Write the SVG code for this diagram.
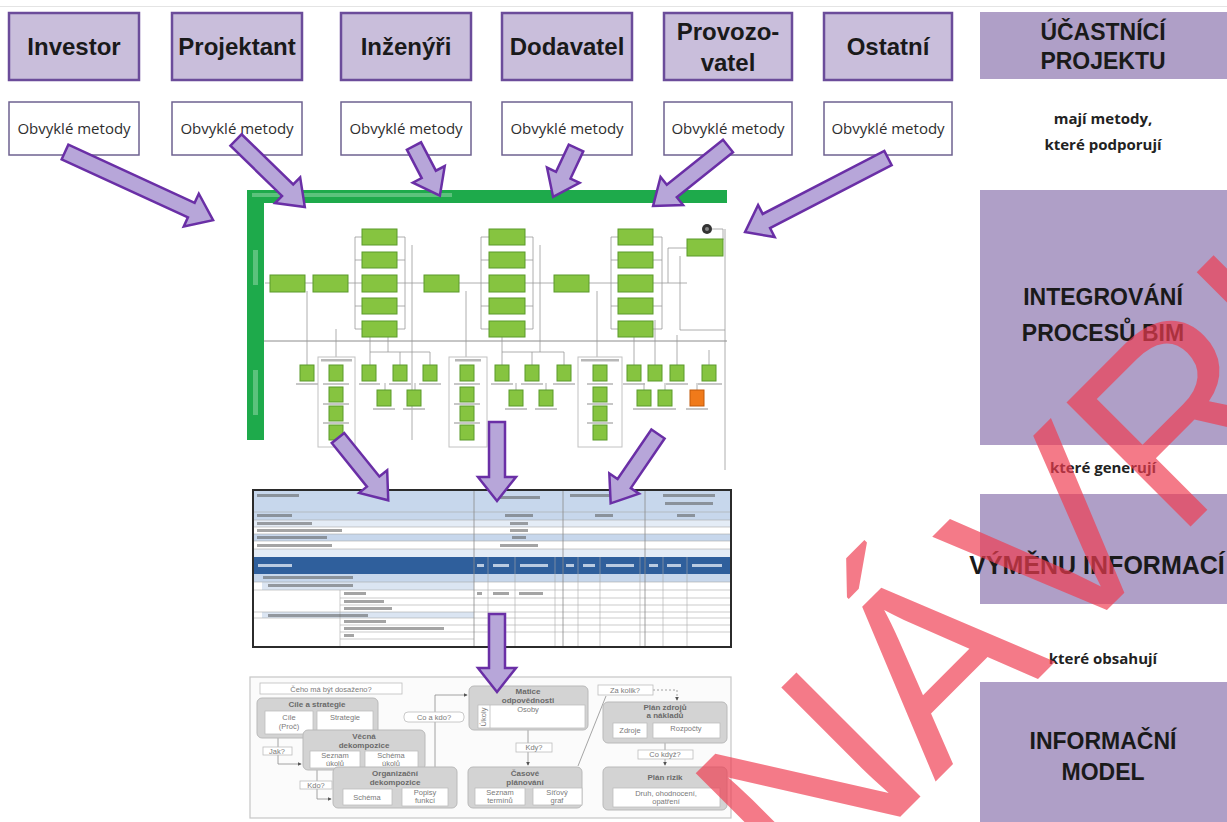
<svg xmlns="http://www.w3.org/2000/svg" width="1227" height="822" viewBox="0 0 1227 822">
<style>
  .actor rect{fill:#c9bedb;stroke:#6b4c9a;stroke-width:2.5}
  .actor text{font:bold 24px "Liberation Sans",Arial,sans-serif;fill:#1a1a1a;text-anchor:middle}
  .method rect{fill:#fff;stroke:#6e6290;stroke-width:1.5}
  .method text{font:15px "Open Sans","Liberation Sans",sans-serif;fill:#2e2e2e;text-anchor:middle}
  .side rect{fill:#af9fc7}
  .side text{font:bold 23px "Liberation Sans",Arial,sans-serif;fill:#1a1a1a;text-anchor:middle}
  .note{font:bold 15px "Open Sans","Liberation Sans",sans-serif;fill:#222;text-anchor:middle}
  .arrow{fill:#b7a6d9;stroke:#6a2fa6;stroke-width:2.5;stroke-linejoin:miter}
  .bar{fill:#1eaa4b}
  .g{fill:#86c440;stroke:#5b9a2b;stroke-width:1}
  .sq{fill:#86c440;stroke:#5b9a2b;stroke-width:1}
  .wire{fill:none;stroke:#9a9a9a;stroke-width:.8}
  .lbl{fill:#9a9a9a;opacity:.7}
  .frame{fill:none;stroke:#c2c2c2;stroke-width:1}
  .tline{stroke:#8a8a8a;stroke-width:.8}
  .tmin{stroke:#a8a8a8;stroke-width:.6}
  .tb{fill:#5a5a5a;opacity:.55}
  .fbox{fill:#d3d3d3;stroke:#b9b9b9;stroke-width:1}
  .fin{fill:#fff;stroke:#bdbdbd;stroke-width:.8}
  .ft{font:bold 8px "Liberation Sans",Arial,sans-serif;fill:#6a6a6a;text-anchor:middle}
  .fi{font:7.5px "Liberation Sans",Arial,sans-serif;fill:#7a7a7a;text-anchor:middle}
  .fl{fill:none;stroke:#8e8e8e;stroke-width:.8}
  .mark{font:255px "Liberation Sans",Arial,sans-serif;fill:#f03c50;opacity:.68}
</style>
<defs>
  <marker id="tip" viewBox="0 0 6 6" refX="5" refY="3" markerWidth="5" markerHeight="5" orient="auto">
    <path d="M0,0 L6,3 L0,6 Z" fill="#555"/>
  </marker>
</defs>

<rect width="1227" height="822" fill="#fff"/>
<line x1="0" y1="6.5" x2="1227" y2="6.5" stroke="#e4e4e4" stroke-width="1"/>

<!-- project participants -->
<g id="investor" class="actor"><rect x="9" y="13" width="130" height="67"/><text x="74" y="55">Investor</text></g>
<g id="projektant" class="actor"><rect x="172" y="13" width="130" height="67"/><text x="237" y="55">Projektant</text></g>
<g id="inzenyri" class="actor"><rect x="341" y="13" width="130" height="67"/><text x="406" y="55">Inženýři</text></g>
<g id="dodavatel" class="actor"><rect x="502" y="13" width="130" height="67"/><text x="567" y="55">Dodavatel</text></g>
<g id="provozovatel" class="actor"><rect x="664" y="13" width="128" height="67"/><text x="728" y="40">Provozo-</text><text x="728" y="71">vatel</text></g>
<g id="ostatni" class="actor"><rect x="824" y="13" width="128" height="67"/><text x="888" y="55">Ostatní</text></g>

<!-- usual methods -->
<g id="metody-1" class="method"><rect x="9" y="102" width="130" height="53"/><text x="74" y="134">Obvyklé metody</text></g>
<g id="metody-2" class="method"><rect x="172" y="102" width="130" height="53"/><text x="237" y="134">Obvyklé metody</text></g>
<g id="metody-3" class="method"><rect x="341" y="102" width="130" height="53"/><text x="406" y="134">Obvyklé metody</text></g>
<g id="metody-4" class="method"><rect x="502" y="102" width="130" height="53"/><text x="567" y="134">Obvyklé metody</text></g>
<g id="metody-5" class="method"><rect x="664" y="102" width="128" height="53"/><text x="728" y="134">Obvyklé metody</text></g>
<g id="metody-6" class="method"><rect x="824" y="102" width="128" height="53"/><text x="888" y="134">Obvyklé metody</text></g>

<!-- right column -->
<g id="ucastnici" class="side"><rect x="980" y="12" width="247" height="67"/><text x="1103" y="40">ÚČASTNÍCÍ</text><text x="1103" y="69">PROJEKTU</text></g>
<g id="podporuji"><text class="note" x="1103" y="124">mají metody,</text><text class="note" x="1103" y="150">které podporují</text></g>
<g id="integrovani" class="side"><rect x="980" y="190" width="247" height="255"/><text x="1103" y="305">INTEGROVÁNÍ</text><text x="1103" y="341">PROCESŮ BIM</text></g>
<g id="generuji"><text class="note" x="1103" y="473">které generují</text></g>
<g id="vymena" class="side"><rect x="980" y="494" width="247" height="110"/><text x="1097" y="574" style="font-size:25px">VÝMĚNU INFORMACÍ</text></g>
<g id="obsahuji"><text class="note" x="1103" y="664">které obsahují</text></g>
<g id="model" class="side"><rect x="980" y="682" width="247" height="140"/><text x="1103" y="749">INFORMAČNÍ</text><text x="1103" y="780">MODEL</text></g>

<!-- BIM process map -->
<g id="proces">
  <rect x="247" y="190" width="480" height="13" class="bar"/>
  <rect x="247" y="190" width="17" height="250" class="bar"/>
  <rect x="252" y="193" width="200" height="4" fill="#8fd6a5" opacity=".55"/>
  <rect x="253" y="250" width="5" height="35" fill="#8fd6a5" opacity=".55"/>
  <rect x="253" y="370" width="5" height="45" fill="#8fd6a5" opacity=".55"/>
  <line x1="264" y1="341" x2="727" y2="341" stroke="#8c8c8c" stroke-width="1"/>
  <!-- wiring -->
  <path class="wire" d="M265,283 H687 M355,237 V329 M355,237 H362 M355,260 H362 M355,306 H362 M355,329 H362 M405,237 V329 M397,237 H405 M397,260 H405 M397,306 H405 M397,329 H405 M412,245 V440"/>
  <path class="wire" d="M481,237 V329 M481,237 H489 M481,260 H489 M481,306 H489 M481,329 H489 M533,237 V329 M525,237 H533 M525,260 H533 M525,306 H533 M525,329 H533 M540,245 V352"/>
  <path class="wire" d="M611,237 V329 M611,237 H618 M611,260 H618 M611,306 H618 M611,329 H618 M662,237 V329 M653,237 H662 M653,260 H662 M653,306 H662 M653,329 H662 M668,283 V248 H687 M712,229 H723 V240 M725,229 V470 M680,256 V330 H725"/>
  <path class="wire" d="M307,291 V365 M336,329 V357 M370,337 V365 M388,329 V352 M370,352 H430 M400,352 V365 M430,352 V365 M385,383 V390 M415,383 V390 M466,291 V357 M502,329 V365 M502,352 H564 M532,352 V365 M564,352 V365 M516,383 V390 M546,383 V390 M597,291 V357 M634,329 V365 M655,320 V365 M677,335 V365 M709,350 V365 M644,383 V390 M665,383 V390 M697,383 V390"/>
  <rect class="frame" x="318" y="357" width="37" height="90"/>
  <rect class="frame" x="449" y="357" width="38" height="90"/>
  <rect class="frame" x="578" y="357" width="44" height="90"/>
  <rect class="lbl" x="321" y="359" width="31" height="2.5"/>
  <rect class="lbl" x="455" y="359" width="26" height="2.5"/>
  <rect class="lbl" x="581" y="359" width="38" height="2.5"/>
  <!-- process steps -->
  <rect class="g" x="270" y="275" width="35" height="17"/>
  <rect class="g" x="313" y="275" width="35" height="17"/>
  <rect class="g" x="424" y="275" width="35" height="17"/>
  <rect class="g" x="554" y="275" width="35" height="17"/>
  <rect class="g" x="362" y="229" width="35" height="16"/><rect class="g" x="362" y="252" width="35" height="16"/><rect class="g" x="362" y="275" width="35" height="17"/><rect class="g" x="362" y="298" width="35" height="16"/><rect class="g" x="362" y="321" width="35" height="16"/>
  <rect class="g" x="489" y="229" width="36" height="16"/><rect class="g" x="489" y="252" width="36" height="16"/><rect class="g" x="489" y="275" width="36" height="17"/><rect class="g" x="489" y="298" width="36" height="16"/><rect class="g" x="489" y="321" width="36" height="16"/>
  <rect class="g" x="618" y="229" width="35" height="16"/><rect class="g" x="618" y="252" width="35" height="16"/><rect class="g" x="618" y="275" width="35" height="17"/><rect class="g" x="618" y="298" width="35" height="16"/><rect class="g" x="618" y="321" width="35" height="16"/>
  <rect class="g" x="687" y="239" width="36" height="17"/>
  <circle cx="707" cy="229" r="5" fill="#333"/>
  <circle cx="707" cy="229" r="2" fill="#888"/>
  <!-- information items -->
  <g>
    <rect class="sq" x="300" y="365" width="14" height="16"/><rect class="sq" x="329" y="365" width="14" height="16"/><rect class="sq" x="362" y="365" width="14" height="16"/><rect class="sq" x="393" y="365" width="14" height="16"/><rect class="sq" x="423" y="365" width="14" height="16"/>
    <rect class="sq" x="460" y="365" width="14" height="16"/><rect class="sq" x="495" y="365" width="14" height="16"/><rect class="sq" x="525" y="365" width="14" height="16"/><rect class="sq" x="557" y="365" width="14" height="16"/>
    <rect class="sq" x="593" y="365" width="14" height="16"/><rect class="sq" x="627" y="365" width="14" height="16"/><rect class="sq" x="648" y="365" width="14" height="16"/><rect class="sq" x="670" y="365" width="14" height="16"/><rect class="sq" x="702" y="365" width="14" height="16"/>
    <rect class="sq" x="377" y="390" width="14" height="16"/><rect class="sq" x="407" y="390" width="14" height="16"/><rect class="sq" x="509" y="390" width="14" height="16"/><rect class="sq" x="539" y="390" width="14" height="16"/><rect class="sq" x="637" y="390" width="14" height="16"/><rect class="sq" x="658" y="390" width="14" height="16"/>
    <rect x="690" y="390" width="14" height="16" fill="#f07a1a" stroke="#c25a0a" stroke-width="1"/>
    <rect class="sq" x="329" y="387" width="14" height="15"/><rect class="sq" x="329" y="406" width="14" height="15"/><rect class="sq" x="329" y="425" width="14" height="15"/>
    <rect class="sq" x="460" y="387" width="14" height="15"/><rect class="sq" x="460" y="406" width="14" height="15"/><rect class="sq" x="460" y="425" width="14" height="15"/>
    <rect class="sq" x="593" y="387" width="14" height="15"/><rect class="sq" x="593" y="406" width="14" height="15"/><rect class="sq" x="593" y="425" width="14" height="15"/>
  </g>
  <path stroke="#b5b5b5" stroke-width="1.5" d="M296,384 H318 M359,384 H380 M389,384 H411 M419,384 H441 M491,384 H513 M521,384 H543 M553,384 H575 M623,384 H645 M666,384 H688 M698,384 H722 M373,409 H395 M403,409 H425 M505,409 H527 M535,409 H557 M633,409 H655 M654,409 H676 M686,409 H708 M323,384 H349 M323,404 H349 M323,423 H349 M454,384 H480 M454,404 H480 M454,423 H480 M587,384 H613 M587,404 H613 M587,423 H613"/>
</g>

<!-- BIM information exchange table -->
<g id="tabulka">
  <rect x="253" y="490" width="478" height="157" fill="#fff"/>
  <rect x="253" y="490" width="478" height="30" fill="#c7d7ec"/>
  <rect x="253" y="520" width="478" height="7" fill="#e4ecf6"/>
  <rect x="253" y="534" width="478" height="7" fill="#c7d7ec"/>
  <rect x="253" y="549" width="478" height="8" fill="#e4ecf6"/>
  <rect x="253" y="557" width="478" height="17" fill="#2f5f9c"/>
  <rect x="253" y="574" width="478" height="8" fill="#c7d7ec"/>
  <rect x="262" y="582" width="212" height="8" fill="#dbe5f2"/>
  <rect x="262" y="612" width="212" height="6" fill="#dbe5f2"/>
  <path class="tmin" d="M253,512 H731 M253,520 H731 M253,527 H731 M253,534 H731 M253,541 H731 M253,549 H731 M253,582 H731 M253,590 H731 M340,598 H731 M340,605 H731 M253,612 H731 M253,618 H731 M340,625 H731 M340,632 H731 M340,639 H474"/>
  <path class="tline" d="M474,490 V647 M563,490 V647 M645,490 V647"/>
  <path class="tmin" d="M488,557 V647 M515,557 V647 M555,557 V647 M578,557 V647 M600,557 V647 M640,557 V647 M663,557 V647 M687,557 V647 M340,590 V647"/>
  <rect x="253" y="490" width="478" height="157" fill="none" stroke="#2b2b2b" stroke-width="2"/>
  <!-- cell contents -->
  <g class="tb">
    <rect x="257" y="494" width="42" height="3"/><rect x="500" y="496" width="40" height="3"/><rect x="570" y="494" width="52" height="3"/><rect x="663" y="494" width="52" height="3"/><rect x="665" y="502" width="48" height="3"/>
    <rect x="257" y="514" width="35" height="3"/><rect x="505" y="514" width="28" height="3"/><rect x="595" y="514" width="18" height="3"/><rect x="677" y="514" width="18" height="3"/>
    <rect x="257" y="522" width="55" height="3"/><rect x="510" y="522" width="18" height="3"/>
    <rect x="257" y="529" width="85" height="3"/><rect x="510" y="529" width="18" height="3"/>
    <rect x="257" y="536" width="70" height="3"/><rect x="512" y="536" width="14" height="3"/>
    <rect x="257" y="544" width="75" height="3"/><rect x="500" y="544" width="38" height="3"/>
    <rect x="263" y="576" width="90" height="3"/><rect x="268" y="584" width="85" height="3"/>
    <rect x="344" y="592" width="22" height="3"/><rect x="477" y="592" width="5" height="3"/><rect x="493" y="592" width="16" height="3"/><rect x="519" y="592" width="24" height="3"/>
    <rect x="344" y="600" width="40" height="3"/><rect x="344" y="607" width="48" height="3"/>
    <rect x="268" y="614" width="100" height="3"/><rect x="344" y="620" width="42" height="3"/><rect x="344" y="627" width="100" height="3"/><rect x="344" y="634" width="10" height="3"/>
  </g>
  <g fill="#dde6f3" opacity=".8">
    <rect x="258" y="564" width="34" height="3"/><rect x="477" y="564" width="7" height="3"/><rect x="493" y="564" width="16" height="3"/><rect x="520" y="564" width="28" height="3"/>
    <rect x="566" y="564" width="8" height="3"/><rect x="583" y="564" width="12" height="3"/><rect x="606" y="564" width="28" height="3"/>
    <rect x="649" y="564" width="9" height="3"/><rect x="667" y="564" width="14" height="3"/><rect x="692" y="564" width="30" height="3"/>
  </g>
</g>

<!-- project planning chart -->
<g id="planovani">
  <rect x="250" y="677" width="481" height="141" fill="#fbfbfb" stroke="#c6c6c6" stroke-width="1.2"/>
  <!-- connectors -->
  <path class="fl" d="M278,738 V747 M278,755 V764 H301" marker-end="url(#tip)"/>
  <path class="fl" d="M317,770 V781 M317,789 V799 H331" marker-end="url(#tip)"/>
  <path class="fl" d="M435,767 V695 H467" marker-end="url(#tip)"/>
  <path class="fl" d="M528,730 V743 M528,752 V765" marker-end="url(#tip)"/>
  <path class="fl" d="M578,766 L606,696"/>
  <path class="fl" d="M653,690 H677 V700" stroke-dasharray="2 2" marker-end="url(#tip)"/>
  <path class="fl" d="M665,743 V750 M665,759 V765" marker-end="url(#tip)"/>
  <!-- goals -->
  <g id="cile">
    <rect class="fin" x="260" y="683" width="142" height="11"/>
    <text class="fi" x="331" y="691.5">Čeho má být dosaženo?</text>
    <rect class="fbox" x="257" y="698" width="121" height="40" rx="5"/>
    <text class="ft" x="317" y="707">Cíle a strategie</text>
    <rect class="fin" x="265" y="711" width="48" height="23"/><text class="fi" x="289" y="720">Cíle</text><text class="fi" x="289" y="729">(Proč)</text>
    <rect class="fin" x="317" y="711" width="56" height="20"/><text class="fi" x="345" y="720">Strategie</text>
  </g>
  <g id="vecna">
    <rect class="fbox" x="303" y="730" width="122" height="40" rx="5"/>
    <text class="ft" x="364" y="739">Věcná</text><text class="ft" x="364" y="748">dekompozice</text>
    <rect class="fin" x="310" y="751" width="50" height="17"/><text class="fi" x="335" y="758">Seznam</text><text class="fi" x="335" y="766">úkolů</text>
    <rect class="fin" x="365" y="751" width="53" height="17"/><text class="fi" x="391" y="758">Schéma</text><text class="fi" x="391" y="766">úkolů</text>
  </g>
  <g id="organizacni">
    <rect class="fbox" x="333" y="767" width="124" height="41" rx="5"/>
    <text class="ft" x="395" y="776">Organizační</text><text class="ft" x="395" y="785">dekompozice</text>
    <rect class="fin" x="343" y="789" width="49" height="16"/><text class="fi" x="367" y="800">Schéma</text>
    <rect class="fin" x="402" y="788" width="46" height="18"/><text class="fi" x="425" y="795">Popisy</text><text class="fi" x="425" y="803">funkcí</text>
  </g>
  <g id="matice">
    <rect class="fbox" x="469" y="686" width="119" height="44" rx="5"/>
    <text class="ft" x="528" y="694">Matice</text><text class="ft" x="528" y="703">odpovědnosti</text>
    <rect class="fin" x="478" y="705" width="107" height="23"/>
    <line x1="490" y1="705" x2="490" y2="728" stroke="#bdbdbd" stroke-width=".8"/>
    <text class="fi" x="528" y="712">Osoby</text>
    <text class="fi" transform="translate(486,717) rotate(-90)">Úkoly</text>
  </g>
  <g id="casovy">
    <rect class="fbox" x="468" y="767" width="114" height="41" rx="5"/>
    <text class="ft" x="525" y="776">Časové</text><text class="ft" x="525" y="785">plánování</text>
    <rect class="fin" x="475" y="788" width="50" height="17"/><text class="fi" x="500" y="795">Seznam</text><text class="fi" x="500" y="803">termínů</text>
    <rect class="fin" x="533" y="788" width="49" height="17"/><text class="fi" x="557" y="795">Síťový</text><text class="fi" x="557" y="803">graf</text>
  </g>
  <g id="zdroje">
    <rect class="fbox" x="603" y="702" width="124" height="41" rx="5"/>
    <text class="ft" x="665" y="710">Plán zdrojů</text><text class="ft" x="665" y="718">a nákladů</text>
    <rect class="fin" x="613" y="723" width="34" height="15"/><text class="fi" x="630" y="733">Zdroje</text>
    <rect class="fin" x="653" y="723" width="67" height="15"/><text class="fi" x="686" y="731">Rozpočty</text>
  </g>
  <g id="rizika">
    <rect class="fbox" x="603" y="767" width="124" height="43" rx="5"/>
    <text class="ft" x="665" y="780">Plán rizik</text>
    <rect class="fin" x="613" y="788" width="107" height="19"/><text class="fi" x="666" y="796">Druh, ohodnocení,</text><text class="fi" x="666" y="804">opatření</text>
  </g>
  <g id="otazky">
    <rect class="fin" x="263" y="747" width="29" height="8"/><text class="fi" x="277" y="754">Jak?</text>
    <rect class="fin" x="300" y="781" width="32" height="8"/><text class="fi" x="316" y="788">Kdo?</text>
    <rect class="fin" x="404" y="712" width="60" height="10" rx="4"/><text class="fi" x="434" y="720">Co a kdo?</text>
    <rect class="fin" x="516" y="743" width="36" height="9"/><text class="fi" x="534" y="750">Kdy?</text>
    <rect class="fin" x="598" y="685" width="55" height="10"/><text class="fi" x="625" y="693">Za kolik?</text>
    <rect class="fin" x="638" y="750" width="55" height="9"/><text class="fi" x="665" y="757">Co když?</text>
  </g>
</g>

<!-- block arrows -->
<g id="spojnice">
  <path class="arrow" transform="translate(65,152) rotate(24.7)" d="M0,-8 H139 V-18 L163,0 L139,18 V8 H0 Z"/>
  <path class="arrow" transform="translate(236,140) rotate(44.2)" d="M0,-8 H72 V-18 L96,0 L72,18 V8 H0 Z"/>
  <path class="arrow" transform="translate(414,146) rotate(62.5)" d="M0,-8 H32 V-18 L56,0 L32,18 V8 H0 Z"/>
  <path class="arrow" transform="translate(576,148) rotate(115.1)" d="M0,-8 H30 V-18 L54,0 L30,18 V8 H0 Z"/>
  <path class="arrow" transform="translate(728,146) rotate(141.3)" d="M0,-8 H72 V-18 L96,0 L72,18 V8 H0 Z"/>
  <path class="arrow" transform="translate(888,158) rotate(152.6)" d="M0,-8 H137 V-18 L161,0 L137,18 V8 H0 Z"/>
  <path class="arrow" transform="translate(338,438) rotate(51.1)" d="M0,-8 H56 V-18 L80,0 L56,18 V8 H0 Z"/>
  <path class="arrow" transform="translate(497,422) rotate(90)" d="M0,-8 H55 V-19 L79,0 L55,19 V8 H0 Z"/>
  <path class="arrow" transform="translate(658,434) rotate(124.3)" d="M0,-8 H60 V-18 L84,0 L60,18 V8 H0 Z"/>
  <path class="arrow" transform="translate(497,614) rotate(90)" d="M0,-8 H54 V-19 L78,0 L54,19 V8 H0 Z"/>
</g>

<!-- draft stamp -->
<text class="mark" transform="translate(805,912) rotate(-45)">NÁVRH</text>
</svg>
